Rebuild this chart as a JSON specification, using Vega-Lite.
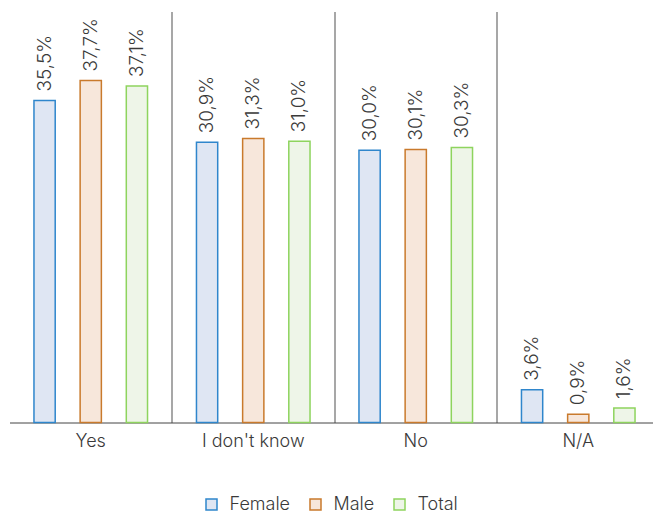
{
  "$schema": "https://vega.github.io/schema/vega-lite/v6.json",
  "width": 650,
  "height": 411,
  "autosize": "none",
  "padding": {"left": 9.5, "top": 11.5, "right": 0, "bottom": 89.5},
  "background": "white",
  "config": {
    "font": "Inter",
    "view": {"stroke": null}
  },
  "data": {
    "values": [
      {"answer": "Yes", "group": "Female", "pct": 35.5},
      {"answer": "Yes", "group": "Male", "pct": 37.7},
      {"answer": "Yes", "group": "Total", "pct": 37.1},
      {"answer": "I don't know", "group": "Female", "pct": 30.9},
      {"answer": "I don't know", "group": "Male", "pct": 31.3},
      {"answer": "I don't know", "group": "Total", "pct": 31.0},
      {"answer": "No", "group": "Female", "pct": 30.0},
      {"answer": "No", "group": "Male", "pct": 30.1},
      {"answer": "No", "group": "Total", "pct": 30.3},
      {"answer": "N/A", "group": "Female", "pct": 3.6},
      {"answer": "N/A", "group": "Male", "pct": 0.9},
      {"answer": "N/A", "group": "Total", "pct": 1.6}
    ]
  },
  "transform": [
    {"calculate": "replace(format(datum.pct, '.1f'), '.', ',') + '%'", "as": "label"}
  ],
  "encoding": {
    "x": {
      "field": "answer",
      "type": "nominal",
      "sort": ["Yes", "I don't know", "No", "N/A"],
      "scale": {"paddingInner": 0, "paddingOuter": 0},
      "axis": {
        "title": null,
        "labelAngle": 0,
        "labelFontSize": 18,
        "labelFontWeight": 300,
        "labelColor": "#3a3a3a",
        "labelPadding": 10,
        "ticks": false,
        "domainColor": "#444444",
        "domainWidth": 1,
        "grid": true,
        "bandPosition": 0,
        "gridColor": "#8a8a8a",
        "gridWidth": 1.5,
        "gridOpacity": {"condition": {"test": "datum.value === 'Yes'", "value": 0}, "value": 1}
      }
    },
    "xOffset": {
      "field": "group",
      "type": "nominal",
      "scale": {"paddingInner": 0.54, "paddingOuter": 0.53}
    },
    "y": {
      "field": "pct",
      "type": "quantitative",
      "scale": {"domain": [0, 45.3], "nice": false},
      "axis": null
    }
  },
  "layer": [
    {
      "mark": {"type": "bar", "strokeWidth": 1.5},
      "encoding": {
        "fill": {
          "field": "group",
          "type": "nominal",
          "scale": {"domain": ["Female", "Male", "Total"], "range": ["#dfe6f3", "#f7e7db", "#eef5e8"]},
          "legend": {
            "title": null,
            "orient": "none",
            "legendX": 193,
            "legendY": 484,
            "direction": "horizontal",
            "symbolType": "square",
            "symbolSize": 121,
            "symbolStrokeWidth": 1.5,
            "labelFontSize": 18,
            "labelFontWeight": 300,
            "labelColor": "#3a3a3a",
            "labelOffset": 9,
            "columnPadding": 16
          }
        },
        "stroke": {
          "field": "group",
          "type": "nominal",
          "scale": {"domain": ["Female", "Male", "Total"], "range": ["#2f86cc", "#c97a2c", "#8ed45e"]},
          "legend": {
            "title": null,
            "orient": "none",
            "legendX": 193,
            "legendY": 484,
            "direction": "horizontal",
            "symbolType": "square",
            "symbolSize": 121,
            "symbolStrokeWidth": 1.5,
            "labelFontSize": 18,
            "labelFontWeight": 300,
            "labelColor": "#3a3a3a",
            "labelOffset": 9,
            "columnPadding": 16
          }
        }
      }
    },
    {
      "mark": {
        "type": "text",
        "angle": 270,
        "align": "left",
        "baseline": "middle",
        "dx": 9,
        "fontSize": 19,
        "fontWeight": 300,
        "color": "#3a3a3a"
      },
      "encoding": {
        "text": {"field": "label", "type": "nominal"}
      }
    }
  ]
}
